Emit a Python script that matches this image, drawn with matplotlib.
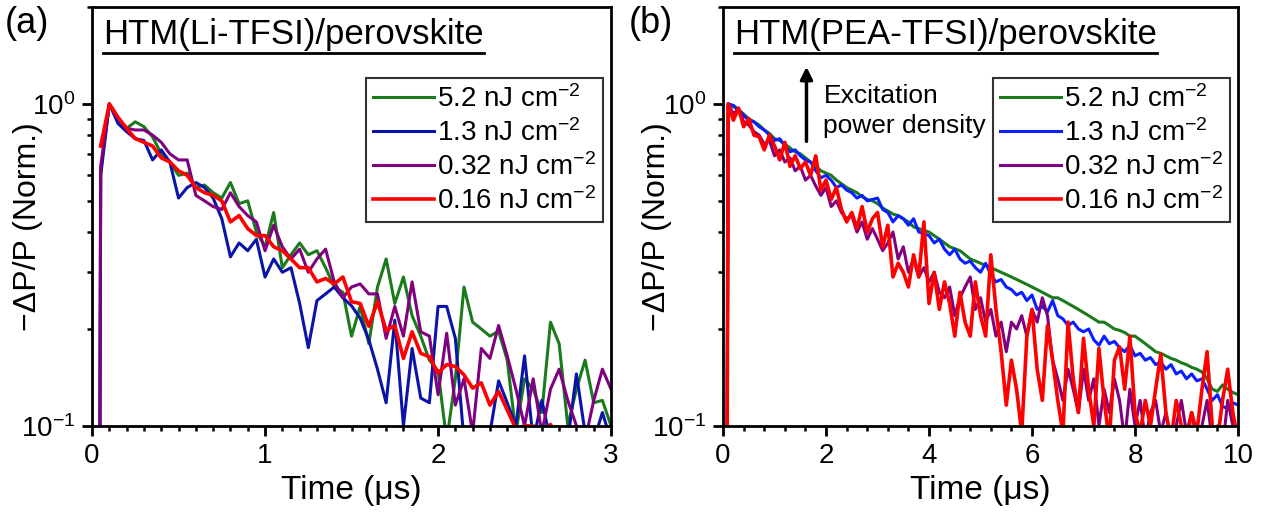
import numpy as np
import matplotlib
matplotlib.use("Agg")
import matplotlib.pyplot as plt
from matplotlib.ticker import LogLocator, FixedLocator, FixedFormatter, MultipleLocator, NullFormatter
from matplotlib.lines import Line2D

plt.rcParams['font.family'] = ['Liberation Sans', 'DejaVu Sans']
plt.rcParams['mathtext.fontset'] = 'custom'
plt.rcParams['mathtext.rm'] = 'Liberation Sans'
plt.rcParams['mathtext.it'] = 'Liberation Sans:italic'
plt.rcParams['mathtext.default'] = 'regular'

labels = ['5.2 nJ cm$^{-2}$', '1.3 nJ cm$^{-2}$', '0.32 nJ cm$^{-2}$', '0.16 nJ cm$^{-2}$']

# ---- (a) HTM(Li-TFSI)/perovskite, 0.05 us steps
t_a = [0.04] + [round(0.05 * k, 2) for k in range(1, 61)]

a_green = [0.01,
    0.62, 1.00, 0.90, 0.84, 0.88, 0.85, 0.79, 0.70, 0.66, 0.60,
    0.61, 0.55, 0.56, 0.53, 0.51, 0.57, 0.49, 0.50, 0.40, 0.36,
    0.46, 0.31, 0.34, 0.37, 0.34, 0.35, 0.31, 0.27, 0.26, 0.19,
    0.235, 0.18, 0.27, 0.33, 0.24, 0.29, 0.22, 0.19, 0.16, 0.148,
    0.09, 0.14, 0.27, 0.21, 0.20, 0.19, 0.197, 0.16, 0.095, 0.14,
    0.13, 0.11, 0.21, 0.18, 0.10, 0.13, 0.16, 0.118, 0.12, 0.10]
a_blue = [0.01,
    0.60, 1.00, 0.87, 0.82, 0.78, 0.77, 0.67, 0.72, 0.66, 0.51,
    0.55, 0.57, 0.55, 0.51, 0.44, 0.335, 0.37, 0.35, 0.38, 0.29,
    0.33, 0.30, 0.31, 0.24, 0.175, 0.245, 0.257, 0.27, 0.25, 0.236,
    0.216, 0.185, 0.15, 0.118, 0.213, 0.10, 0.174, 0.122, 0.118, 0.235,
    0.235, 0.187, 0.09, 0.08, 0.085, 0.095, 0.138, 0.118, 0.10, 0.165,
    0.09, 0.12, 0.09, 0.08, 0.09, 0.145, 0.095, 0.09, 0.11, 0.09]
a_purple = [0.01,
    0.64, 1.00, 0.90, 0.84, 0.83, 0.83, 0.80, 0.76, 0.70, 0.67,
    0.67, 0.52, 0.50, 0.48, 0.47, 0.53, 0.48, 0.45, 0.43, 0.35,
    0.42, 0.36, 0.33, 0.354, 0.30, 0.33, 0.354, 0.28, 0.25, 0.27,
    0.276, 0.257, 0.257, 0.187, 0.235, 0.19, 0.28, 0.196, 0.19, 0.125,
    0.194, 0.116, 0.14, 0.095, 0.174, 0.162, 0.205, 0.165, 0.13, 0.10,
    0.14, 0.095, 0.13, 0.15, 0.12, 0.10, 0.09, 0.12, 0.15, 0.13]
a_red = [np.nan,
    0.74, 1.00, 0.91, 0.84, 0.78, 0.76, 0.74, 0.68, 0.66, 0.62,
    0.60, 0.55, 0.53, 0.52, 0.50, 0.43, 0.45, 0.41, 0.39, 0.39,
    0.36, 0.35, 0.33, 0.31, 0.31, 0.28, 0.287, 0.276, 0.29, 0.243,
    0.24, 0.204, 0.243, 0.198, 0.205, 0.162, 0.196, 0.168, 0.164, 0.146,
    0.155, 0.153, 0.144, 0.131, 0.136, 0.116, 0.128, 0.112, 0.098, 0.10,
    0.10, 0.094, 0.101, 0.09, 0.085, 0.08, 0.08, 0.075, 0.07, 0.07]

# ---- (b) HTM(PEA-TFSI)/perovskite, 0.1 us steps
t_b = [0.06] + [round(0.1 * k, 1) for k in range(1, 101)]

b_green = [0.01,
    1.00, 0.98, 0.96, 0.93, 0.90, 0.88, 0.86, 0.83, 0.81, 0.78,
    0.77, 0.75, 0.73, 0.71, 0.70, 0.68, 0.66, 0.64, 0.62, 0.61,
    0.60, 0.58, 0.565, 0.55, 0.54, 0.53, 0.515, 0.505, 0.50, 0.49,
    0.475, 0.465, 0.455, 0.45, 0.44, 0.43, 0.415, 0.41, 0.405, 0.40,
    0.39, 0.38, 0.37, 0.36, 0.355, 0.35, 0.34, 0.33, 0.325, 0.32,
    0.315, 0.31, 0.305, 0.30, 0.295, 0.29, 0.285, 0.28, 0.275, 0.27,
    0.265, 0.26, 0.255, 0.25, 0.25, 0.245, 0.24, 0.235, 0.23, 0.225,
    0.22, 0.215, 0.21, 0.21, 0.205, 0.20, 0.198, 0.195, 0.19, 0.19,
    0.185, 0.18, 0.175, 0.17, 0.168, 0.165, 0.162, 0.16, 0.157, 0.155,
    0.152, 0.15, 0.147, 0.14, 0.13, 0.128, 0.134, 0.13, 0.127, 0.125]
b_blue = [0.01,
    1.00, 0.99, 0.96, 0.92, 0.89, 0.88, 0.85, 0.83, 0.80, 0.77,
    0.78, 0.74, 0.71, 0.72, 0.69, 0.67, 0.66, 0.62, 0.59, 0.60,
    0.58, 0.55, 0.56, 0.54, 0.53, 0.51, 0.52, 0.50, 0.505, 0.51,
    0.47, 0.46, 0.43, 0.45, 0.44, 0.42, 0.44, 0.40, 0.395, 0.39,
    0.37, 0.38, 0.354, 0.34, 0.354, 0.33, 0.32, 0.325, 0.31, 0.30,
    0.32, 0.295, 0.28, 0.285, 0.27, 0.265, 0.255, 0.26, 0.245, 0.255,
    0.23, 0.235, 0.226, 0.245, 0.22, 0.215, 0.205, 0.21, 0.20, 0.196,
    0.20, 0.185, 0.178, 0.19, 0.18, 0.183, 0.175, 0.17, 0.178, 0.165,
    0.168, 0.16, 0.163, 0.155, 0.158, 0.15, 0.155, 0.145, 0.148, 0.14,
    0.145, 0.138, 0.14, 0.13, 0.12, 0.125, 0.115, 0.113, 0.118, 0.116]
b_purple = [0.01,
    1.00, 0.93, 0.97, 0.88, 0.86, 0.82, 0.80, 0.75, 0.77, 0.69,
    0.72, 0.66, 0.68, 0.62, 0.64, 0.58, 0.60, 0.556, 0.52, 0.55,
    0.48, 0.50, 0.46, 0.44, 0.45, 0.40, 0.43, 0.38, 0.41, 0.38,
    0.35, 0.37, 0.40, 0.33, 0.36, 0.30, 0.33, 0.29, 0.31, 0.28,
    0.30, 0.26, 0.25, 0.27, 0.22, 0.25, 0.27, 0.29, 0.23, 0.25,
    0.21, 0.23, 0.19, 0.21, 0.17, 0.21, 0.20, 0.22, 0.19, 0.23,
    0.21, 0.25, 0.22, 0.16, 0.14, 0.12, 0.15, 0.13, 0.11, 0.15,
    0.12, 0.14, 0.10, 0.13, 0.11, 0.14, 0.12, 0.09, 0.13, 0.10,
    0.12, 0.09, 0.11, 0.12, 0.095, 0.11, 0.09, 0.10, 0.12, 0.095,
    0.11, 0.09, 0.10, 0.12, 0.09, 0.10, 0.085, 0.12, 0.10, 0.095]
b_red = [0.01,
    1.00, 0.89, 0.97, 0.85, 0.90, 0.80, 0.79, 0.72, 0.80, 0.74,
    0.67, 0.76, 0.64, 0.69, 0.63, 0.66, 0.60, 0.69, 0.54, 0.58,
    0.505, 0.55, 0.47, 0.43, 0.46, 0.41, 0.48, 0.40, 0.44, 0.46,
    0.36, 0.42, 0.29, 0.32, 0.30, 0.27, 0.34, 0.29, 0.43, 0.24,
    0.30, 0.23, 0.28, 0.24, 0.19, 0.26, 0.21, 0.19, 0.28, 0.22,
    0.19, 0.34, 0.23, 0.17, 0.116, 0.16, 0.13, 0.095, 0.19, 0.23,
    0.15, 0.12, 0.205, 0.16, 0.12, 0.095, 0.21, 0.14, 0.11, 0.187,
    0.13, 0.10, 0.174, 0.12, 0.09, 0.16, 0.176, 0.13, 0.19, 0.11,
    0.095, 0.12, 0.10, 0.13, 0.167, 0.11, 0.09, 0.12, 0.10, 0.09,
    0.11, 0.095, 0.13, 0.17, 0.10, 0.09, 0.12, 0.15, 0.11, 0.09]

green = '#1b7a1b'
purple = '#800080'
red = '#ff0000'
blue_a = '#0a14a8'
blue_b = '#0a1eff'

fig = plt.figure(figsize=(12.73, 5.2), dpi=100)
ax1 = fig.add_axes([0.0723, 0.181, 0.4077, 0.8055])
ax2 = fig.add_axes([0.568, 0.181, 0.4045, 0.8055])


def style_axis(ax, xmax, minor_step, ylabel_x):
    ax.set_yscale('log')
    ax.set_ylim(0.1, 2.0)
    ax.set_xlim(0, xmax)
    ax.xaxis.set_major_locator(MultipleLocator(1 if xmax == 3 else 2))
    ax.xaxis.set_minor_locator(MultipleLocator(minor_step))
    ax.yaxis.set_major_locator(FixedLocator([0.1, 1.0]))
    ax.yaxis.set_major_formatter(FixedFormatter(['10$^{-1}$', '10$^{0}$']))
    ax.yaxis.set_minor_locator(LogLocator(base=10, subs=np.arange(2, 10)))
    ax.yaxis.set_minor_formatter(NullFormatter())
    for s in ax.spines.values():
        s.set_linewidth(2)
    ax.tick_params(which='both', direction='out', top=False, right=False, width=2)
    ax.tick_params(which='major', length=7, labelsize=20, pad=5)
    ax.tick_params(which='minor', length=3.5, width=1.8)
    ax.set_xlabel('Time (\u03bcs)', fontsize=24, labelpad=5)
    ax.set_ylabel('\u2212\u0394P/P (Norm.)', fontsize=23)
    ax.yaxis.set_label_coords(ylabel_x, 0.475)


lw = 2.2
ax1.plot(t_a, a_green, color=green, lw=lw, label=labels[0])
ax1.plot(t_a, a_blue, color=blue_a, lw=lw, label=labels[1])
ax1.plot(t_a, a_purple, color=purple, lw=lw, label=labels[2])
ax1.plot(t_a, a_red, color=red, lw=2.6, label=labels[3])
style_axis(ax1, 3, 0.1, -0.095)

ax2.plot(t_b, b_green, color=green, lw=lw, label=labels[0])
ax2.plot(t_b, b_blue, color=blue_b, lw=lw, label=labels[1])
ax2.plot(t_b, b_purple, color=purple, lw=lw, label=labels[2])
ax2.plot(t_b, b_red, color=red, lw=2.6, label=labels[3])
style_axis(ax2, 10, 0.4, -0.1)

for ax in (ax1, ax2):
    leg = ax.legend(loc='upper right', bbox_to_anchor=(0.985, 0.83), fontsize=20,
                    frameon=True, fancybox=False, handlelength=2.2, handletextpad=0.1,
                    borderpad=0.25, labelspacing=0.22, borderaxespad=0)
    leg.get_frame().set_edgecolor('black')
    leg.get_frame().set_linewidth(1.5)

# arrow and note in (b)
ax2.annotate('', xy=(1.62, 1.33), xytext=(1.62, 0.75),
             arrowprops=dict(arrowstyle='-|>', color='black', lw=2.5, mutation_scale=18))
ax2.text(1.95, 0.95, 'Excitation\npower density', fontsize=19, ha='left', va='center',
         linespacing=1.3)

# panel letters and underlined titles
fig.text(0.004, 0.955, '(a)', fontsize=26, va='center')
fig.text(0.494, 0.955, '(b)', fontsize=26, va='center')
titles = [(ax1, 'HTM(Li-TFSI)/perovskite'), (ax2, 'HTM(PEA-TFSI)/perovskite')]
title_texts = []
for ax, s in titles:
    title_texts.append(ax.text(0.022, 0.935, s, transform=ax.transAxes, fontsize=25,
                               ha='left', va='center'))

fig.canvas.draw()
renderer = fig.canvas.get_renderer()
for txt in title_texts:
    bb = txt.get_window_extent(renderer).transformed(fig.transFigure.inverted())
    y = bb.y0 - 0.004
    fig.add_artist(Line2D([bb.x0, bb.x1], [y, y], transform=fig.transFigure,
                          color='black', lw=2))

fig.savefig('out.png', dpi=100)
